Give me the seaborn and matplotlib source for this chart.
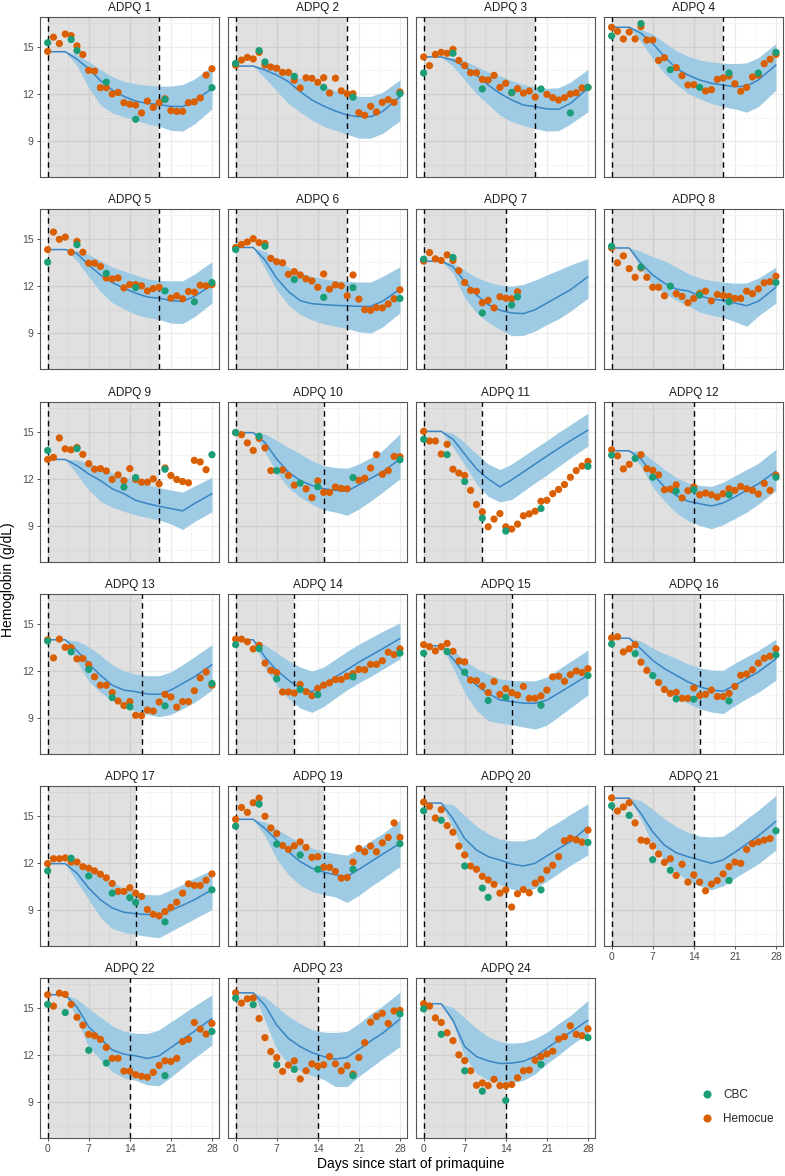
import matplotlib
matplotlib.use("Agg")
import numpy as np
import pandas as pd
import matplotlib.pyplot as plt
import seaborn as sns
from matplotlib.lines import Line2D

# ---------------- data ----------------
PANELS = ["ADPQ 1", "ADPQ 2", "ADPQ 3", "ADPQ 4", "ADPQ 5", "ADPQ 6", "ADPQ 7", "ADPQ 8",
          "ADPQ 9", "ADPQ 10", "ADPQ 11", "ADPQ 12", "ADPQ 13", "ADPQ 14", "ADPQ 15", "ADPQ 16",
          "ADPQ 17", "ADPQ 19", "ADPQ 20", "ADPQ 21", "ADPQ 22", "ADPQ 23", "ADPQ 24"]

END_DAY = [19, 19, 19, 19, 19, 19, 14, 19, 19, 15, 10, 14, 16, 10, 15, 15, 15, 15, 14, 14, 14, 14, 14]

X_TICKS = [0, 7, 14, 21, 28]
Y_TICKS = [9, 12, 15]

N = None
# Hemocue daily values, day 0..28
HEMOCUE = {
    "ADPQ 1": [14.7, 15.6, 15.2, 15.8, 15.7, 15.05, 14.5, 13.5, 13.45, 12.4, 12.4, 12.0, 12.1, 11.45, 11.35, 11.3, 10.8, 11.55, 11.15, 11.45, 11.7, 10.95, 10.9, 10.9, 11.45, 11.5, 11.75, 13.2, 13.6],
    "ADPQ 2": [13.82, 14.15, 14.32, 14.22, 14.64, 13.84, 13.71, 13.63, 13.37, 13.37, 12.87, 12.38, 13.03, 12.99, 12.74, 13.03, 12.06, 13.0, 12.2, 12.02, 12.02, 10.82, 10.65, 11.22, 10.86, 11.47, 11.64, 11.47, 12.13],
    "ADPQ 3": [14.35, 13.8, 14.51, 14.64, 14.58, 14.83, 14.13, 13.8, 13.35, 13.35, 12.93, 12.89, 13.18, 12.42, 12.68, 12.08, 12.34, 12.06, 12.19, 11.81, N, 11.98, 11.77, 11.62, 11.77, 12.0, 12.08, 12.38, 12.42],
    "ADPQ 4": [16.23, 15.97, 15.49, 15.93, 15.49, 16.27, 15.42, 15.42, 14.13, 14.3, N, 13.67, 13.16, 12.57, 12.59, N, 12.19, 12.27, 12.93, 13.01, 13.14, 12.65, 12.17, 12.42, 13.08, 13.2, 13.92, 14.2, 14.51],
    "ADPQ 5": [14.31, 15.42, 14.96, 15.1, 14.14, 14.83, 14.14, 13.45, 13.45, 13.24, 12.51, 12.45, 12.51, 11.88, 12.09, 12.09, 12.01, 11.69, 11.84, 11.92, N, 11.23, 11.38, 11.19, 11.65, 11.61, 12.05, 12.01, 12.09],
    "ADPQ 6": [14.44, 14.64, 14.79, 15.0, 14.75, 14.69, 13.75, 13.54, 13.47, 12.74, 12.91, 12.7, 12.45, 12.32, 11.92, 12.76, 11.8, 12.07, 12.01, 11.38, 12.7, 11.17, 10.5, 10.46, 10.63, 10.61, 10.86, 11.19, 11.76],
    "ADPQ 7": [13.58, 14.12, 13.72, 13.62, 13.97, 13.62, 12.97, 12.22, 11.72, 11.67, 10.94, 11.09, 10.61, 11.32, 11.23, 11.19, 11.63, N, N, N, N, N, N, N, N, N, N, N, N],
    "ADPQ 8": [14.41, 13.47, 13.91, 13.1, 12.55, 13.14, 12.55, 11.92, 11.92, 11.38, N, 11.51, 11.34, 10.94, 11.21, 11.53, 11.67, 11.06, 11.46, 11.4, 11.34, 11.21, 11.21, 11.67, 11.51, 11.82, 12.2, 12.28, 12.62],
    "ADPQ 9": [13.24, 13.37, 14.6, 13.91, 13.85, 14.0, 13.56, 12.97, 12.62, 12.66, 12.51, 11.97, 12.26, 11.9, 12.66, 11.97, 11.8, 11.8, 12.01, 11.69, 12.7, 12.22, 11.97, 11.84, 11.76, 13.18, 13.08, 12.59, N],
    "ADPQ 10": [14.94, 14.81, 14.29, 13.81, 14.58, 13.97, 12.53, N, 12.57, 12.22, 11.61, N, 11.38, 10.82, 11.88, 11.15, 11.15, 11.49, 11.4, 11.38, N, 11.92, 12.05, 12.7, 13.54, 12.3, 12.53, 13.43, 13.41],
    "ADPQ 11": [15.02, 14.41, 14.41, 13.58, 14.2, 12.62, 12.38, 12.22, 11.28, 10.38, 9.92, 8.97, 9.46, 9.81, 8.97, 8.83, 9.14, 9.67, 9.79, 9.96, 10.59, 10.65, 11.07, 11.34, 11.65, 12.11, 12.53, 12.82, 13.12],
    "ADPQ 12": [13.85, 13.47, 12.64, 12.93, N, 13.54, 12.66, 12.55, 12.26, 11.32, 11.36, 11.63, 10.8, 11.26, 11.49, 11.0, 11.11, 11.0, 10.86, 11.07, 11.38, 11.28, 11.53, 11.38, 11.28, 11.05, 11.72, 11.28, 12.24],
    "ADPQ 13": [13.98, 12.83, 14.02, 13.5, 13.48, 12.77, 12.79, 12.4, 11.63, 11.1, 11.1, 10.63, 10.1, 9.81, 10.06, 9.19, 9.17, 9.52, 9.46, 10.04, 10.52, 10.35, 9.71, 10.06, 10.06, 10.75, 11.56, 11.94, 11.1],
    "ADPQ 14": [14.02, 14.02, 13.85, 13.4, 13.63, 12.5, 12.04, 11.9, 10.67, 10.67, 10.6, 11.15, 10.69, 10.44, 10.9, 11.1, 11.25, 11.46, 11.46, 11.67, 11.83, 12.1, 12.08, 12.42, 12.42, 12.65, 13.19, 13.04, 13.4],
    "ADPQ 15": [13.67, 13.54, 13.27, 13.54, 13.75, 13.25, 12.63, 12.58, 11.42, 11.38, 11.04, 10.63, 11.33, 10.52, 10.88, 10.63, 10.48, 11.02, 10.27, 10.27, 10.42, 10.79, 11.63, 11.67, 11.35, 11.77, 12.0, 11.9, 12.15],
    "ADPQ 16": [14.1, 14.17, 13.21, 13.4, 13.67, 12.56, 12.04, N, 11.27, 10.83, 10.58, 10.65, 10.27, 10.27, 10.92, 10.44, 10.52, 10.79, 10.38, 10.38, 10.58, 11.02, 11.73, 11.81, 12.08, 12.5, 12.81, 12.94, 13.4],
    "ADPQ 17": [11.96, 12.27, 12.27, 12.32, 12.06, 12.06, 11.77, 11.67, 11.5, 11.29, 11.06, 10.7, 10.2, 10.2, 10.43, 10.09, 9.88, 9.05, 8.75, 8.65, 8.92, 9.19, 9.51, 10.09, 10.68, 10.58, 10.58, 10.91, 11.31],
    "ADPQ 19": [14.77, 15.52, 15.21, 15.82, 16.11, 14.96, 14.22, 13.87, 13.11, 12.86, 13.09, 13.34, 12.99, 12.36, 12.4, 11.73, 11.73, 11.46, 11.04, 11.08, 12.06, 12.92, 12.71, 13.07, 12.71, 13.28, 13.62, 14.54, 13.62],
    "ADPQ 20": [15.86, 15.59, 14.85, 15.38, 14.37, 13.95, 13.07, 12.51, 11.81, 11.6, 11.16, 10.93, 10.65, 10.09, 10.3, 9.21, 10.05, 10.32, 10.11, 10.72, 10.97, 11.54, 11.86, 12.4, 13.41, 13.57, 13.47, 13.32, 14.08],
    "ADPQ 21": [16.13, 15.29, 15.55, 15.82, 14.54, 13.45, 13.39, 13.07, 12.57, 12.04, 12.27, 11.21, 11.92, 10.79, 11.25, 10.79, 10.24, 10.66, 10.89, 11.31, 11.77, 12.06, 11.98, 12.86, 13.22, 13.34, 13.45, 13.55, N],
    "ADPQ 22": [15.82, 15.1, 15.92, 15.84, 15.21, 14.39, 13.89, 13.31, 13.22, 12.99, 12.48, 11.79, 11.79, 10.98, 10.98, 10.75, 10.65, 10.59, 10.9, 11.34, 11.63, 11.59, 11.79, 12.85, 12.99, 14.06, 13.64, 13.33, 14.0],
    "ADPQ 23": [15.94, 15.29, 15.56, 15.61, 14.31, 13.1, 12.22, 11.84, 10.96, 11.36, 11.63, 10.48, 11.0, 11.44, 11.3, 11.38, 11.9, 11.44, 11.0, 11.32, 10.79, 11.84, 12.78, 14.08, 14.44, 14.64, 14.0, 14.79, 14.83],
    "ADPQ 24": [15.25, 15.1, 14.35, 14.06, 13.41, 12.91, 12.01, 11.65, 11.0, 10.08, 10.23, 10.06, 10.46, 10.06, 10.06, 10.13, 10.56, 11.0, 11.05, 11.67, 11.9, 12.07, 12.24, 13.01, 13.16, 13.85, 13.31, 13.22, 13.66],
}

CBC_DAYS = {
    "ADPQ 1": [0, 4, 5, 10, 15, 20, 28], "ADPQ 2": [0, 4, 5, 10, 15, 20, 28],
    "ADPQ 3": [0, 5, 10, 15, 20, 25, 28], "ADPQ 4": [0, 5, 10, 15, 20, 25, 28],
    "ADPQ 5": [0, 5, 10, 15, 20, 25, 28], "ADPQ 6": [0, 5, 10, 15, 20, 28],
    "ADPQ 7": [0, 5, 10, 15, 16], "ADPQ 8": [0, 5, 10, 15, 20, 28],
    "ADPQ 9": [0, 5, 13, 15, 20, 28], "ADPQ 10": [0, 4, 7, 11, 14, 20, 28],
    "ADPQ 11": [0, 4, 7, 10, 14, 20, 28], "ADPQ 12": [0, 4, 7, 11, 14, 20, 28],
    "ADPQ 13": [0, 4, 7, 11, 14, 20, 28], "ADPQ 14": [0, 4, 7, 11, 14, 20, 28],
    "ADPQ 15": [0, 4, 7, 11, 14, 20, 28], "ADPQ 16": [0, 4, 7, 11, 14, 20, 28],
    "ADPQ 17": [0, 4, 7, 11, 14, 15, 20, 28], "ADPQ 19": [0, 4, 7, 11, 14, 20, 28],
    "ADPQ 20": [0, 3, 7, 10, 11, 20, 28], "ADPQ 21": [0, 3, 7, 10, 20, 28],
    "ADPQ 22": [0, 3, 7, 10, 20, 28], "ADPQ 23": [0, 3, 7, 10, 20, 28],
    "ADPQ 24": [0, 3, 7, 10, 14, 20, 28],
}
CBC_VALUES = {
    "ADPQ 1": [15.25, 15.45, 14.75, 12.75, 10.4, 11.65, 12.4],
    "ADPQ 2": [13.94, 14.75, 14.03, 13.12, 12.42, 11.8, 12.02],
    "ADPQ 3": [13.33, 14.58, 12.32, 12.1, 12.32, 10.8, 12.42],
    "ADPQ 4": [15.68, 16.46, 13.54, 12.42, 13.33, 13.33, 14.64],
    "ADPQ 5": [13.51, 14.62, 12.8, 11.9, 11.69, 11.0, 12.22],
    "ADPQ 6": [14.31, 14.52, 12.41, 11.28, 11.9, 11.21],
    "ADPQ 7": [13.7, 13.81, 10.29, 10.79, 11.32],
    "ADPQ 8": [14.52, 13.2, 11.99, 11.42, 11.0, 12.22],
    "ADPQ 9": [13.81, 13.93, 11.49, 12.09, 12.62, 13.54],
    "ADPQ 10": [14.94, 14.71, 12.53, 11.74, 11.51, 12.09, 13.22],
    "ADPQ 11": [14.52, 13.54, 11.84, 9.52, 8.7, 10.13, 12.8],
    "ADPQ 12": [13.51, 13.3, 12.11, 11.23, 11.32, 11.0, 12.11],
    "ADPQ 13": [13.9, 13.21, 12.1, 10.31, 9.73, 9.79, 11.21],
    "ADPQ 14": [13.67, 13.42, 11.5, 10.83, 10.5, 11.63, 13.13],
    "ADPQ 15": [13.13, 13.23, 11.92, 10.13, 10.33, 9.83, 11.71],
    "ADPQ 16": [13.71, 13.1, 11.71, 10.23, 10.21, 10.1, 13.02],
    "ADPQ 17": [11.5, 12.3, 11.18, 10.09, 9.8, 9.51, 8.27, 10.3],
    "ADPQ 19": [14.33, 15.73, 13.2, 12.51, 11.6, 11.6, 13.22],
    "ADPQ 20": [15.31, 14.71, 11.81, 10.41, 9.82, 10.3, 13.3],
    "ADPQ 21": [15.63, 15.02, 12.21, 11.54, 10.89, 14.04],
    "ADPQ 22": [15.21, 14.69, 12.3, 11.49, 10.69, 13.49],
    "ADPQ 23": [15.61, 15.19, 11.38, 11.09, 10.69, 14.6],
    "ADPQ 24": [14.92, 13.31, 11.0, 9.71, 9.12, 11.4, 13.1],
}

MODEL_DAYS = [0, 3, 5, 7, 9, 11, 13, 15, 17, 19, 21, 23, 25, 28]
MODEL_MEDIAN = {
    "ADPQ 1": [14.68, 14.68, 14.2, 13.6, 12.85, 12.25, 11.85, 11.55, 11.4, 11.33, 11.22, 11.2, 11.55, 12.35],
    "ADPQ 2": [13.77, 13.77, 13.52, 13.2, 12.78, 12.15, 11.62, 11.24, 10.92, 10.67, 10.56, 10.56, 10.88, 11.83],
    "ADPQ 3": [14.35, 14.35, 14.15, 13.73, 13.2, 12.57, 12.04, 11.62, 11.3, 11.2, 11.05, 11.03, 11.4, 12.36],
    "ADPQ 4": [16.23, 16.23, 15.85, 15.21, 14.37, 13.63, 13.2, 12.89, 12.68, 12.57, 12.46, 12.5, 12.89, 13.84],
    "ADPQ 5": [14.31, 14.31, 14.06, 13.33, 12.7, 12.22, 11.86, 11.55, 11.3, 11.23, 11.07, 11.03, 11.34, 12.07],
    "ADPQ 6": [14.44, 14.44, 13.64, 12.49, 11.65, 11.07, 10.88, 10.82, 10.77, 10.75, 10.71, 10.71, 11.03, 11.8],
    "ADPQ 7": [13.58, 13.58, 13.22, 12.28, 11.44, 10.82, 10.46, 10.29, 10.25, 10.5, 10.92, 11.34, 11.76, 12.59],
    "ADPQ 8": [14.41, 14.41, 13.43, 12.7, 12.18, 11.8, 11.69, 11.38, 11.17, 11.09, 10.92, 10.75, 11.03, 11.92],
    "ADPQ 9": [13.24, 13.24, 12.85, 12.32, 11.9, 11.38, 11.07, 10.65, 10.44, 10.27, 10.13, 9.98, 10.44, 11.07],
    "ADPQ 10": [14.94, 14.94, 14.31, 13.26, 12.43, 11.9, 11.59, 11.38, 11.28, 11.23, 11.63, 12.03, 12.45, 13.26],
    "ADPQ 11": [15.02, 15.02, 14.52, 13.58, 12.64, 12.01, 11.5, 11.95, 12.45, 12.95, 13.45, 13.94, 14.42, 15.1],
    "ADPQ 12": [13.79, 13.79, 13.26, 12.32, 11.49, 10.96, 10.59, 10.44, 10.29, 10.48, 10.86, 11.28, 11.69, 12.49],
    "ADPQ 13": [13.98, 13.98, 13.29, 12.46, 11.73, 11.1, 10.79, 10.69, 10.54, 10.52, 10.79, 11.21, 11.63, 12.4],
    "ADPQ 14": [13.98, 13.98, 12.88, 12.04, 11.42, 10.9, 10.69, 11.1, 11.63, 12.08, 12.56, 12.98, 13.4, 14.06],
    "ADPQ 15": [13.6, 13.6, 12.77, 11.83, 11.1, 10.58, 10.17, 10.06, 9.96, 9.95, 10.15, 10.6, 11.05, 11.73],
    "ADPQ 16": [14.08, 14.08, 13.4, 12.67, 12.15, 11.73, 11.31, 11.0, 10.79, 10.72, 11.1, 11.52, 11.94, 12.77],
    "ADPQ 17": [11.96, 11.96, 11.35, 10.41, 9.67, 9.15, 8.88, 8.79, 8.73, 8.73, 9.0, 9.32, 9.67, 10.3],
    "ADPQ 19": [14.77, 14.77, 14.18, 13.45, 12.71, 12.09, 11.67, 11.42, 11.25, 11.14, 11.6, 12.07, 12.55, 13.24],
    "ADPQ 20": [15.8, 15.8, 14.81, 13.55, 12.82, 12.4, 12.19, 11.94, 11.81, 11.98, 12.45, 12.91, 13.35, 14.29],
    "ADPQ 21": [16.11, 16.11, 15.13, 13.97, 13.13, 12.65, 12.4, 12.19, 11.98, 12.2, 12.68, 13.2, 13.72, 14.64],
    "ADPQ 22": [15.82, 15.82, 15.04, 13.79, 13.05, 12.32, 12.05, 11.95, 11.78, 11.95, 12.47, 12.99, 13.5, 14.31],
    "ADPQ 23": [15.94, 15.94, 15.15, 13.89, 13.05, 12.53, 12.15, 11.9, 11.74, 11.85, 12.36, 12.89, 13.37, 14.27],
    "ADPQ 24": [15.25, 15.25, 14.2, 12.53, 11.9, 11.63, 11.46, 11.49, 11.6, 11.92, 12.43, 12.94, 13.44, 14.2],
}
MODEL_LOW = {
    "ADPQ 1": [14.68, 14.68, 13.8, 12.4, 11.3, 10.8, 10.55, 10.35, 10.1, 9.95, 9.7, 9.65, 10.1, 11.05],
    "ADPQ 2": [13.77, 13.77, 13.0, 12.2, 11.4, 10.85, 10.35, 9.95, 9.7, 9.45, 9.2, 9.2, 9.5, 10.3],
    "ADPQ 3": [14.35, 14.35, 13.75, 12.9, 12.0, 11.35, 10.65, 10.25, 10.0, 9.8, 9.65, 9.68, 10.1, 10.88],
    "ADPQ 4": [16.23, 16.23, 15.3, 14.25, 13.3, 12.6, 12.05, 11.7, 11.4, 11.2, 11.05, 10.85, 11.2, 12.25],
    "ADPQ 5": [14.31, 14.31, 13.6, 12.6, 11.65, 10.95, 10.55, 10.2, 10.0, 9.88, 9.65, 9.62, 10.05, 10.92],
    "ADPQ 6": [14.44, 14.44, 13.1, 11.75, 10.8, 10.2, 9.85, 9.6, 9.45, 9.3, 9.1, 9.02, 9.4, 10.29],
    "ADPQ 7": [13.58, 13.58, 12.8, 11.25, 10.3, 9.7, 9.25, 8.85, 8.87, 9.15, 9.56, 9.92, 10.4, 11.23],
    "ADPQ 8": [14.41, 14.41, 13.1, 12.05, 11.55, 11.1, 10.75, 10.35, 10.15, 10.0, 9.75, 9.45, 10.1, 10.92],
    "ADPQ 9": [13.24, 13.24, 12.3, 11.3, 10.6, 10.2, 9.95, 9.72, 9.55, 9.4, 9.15, 8.8, 9.3, 9.92],
    "ADPQ 10": [14.94, 14.94, 13.7, 12.4, 11.45, 10.85, 10.4, 10.05, 9.9, 9.7, 10.1, 10.6, 11.15, 12.01],
    "ADPQ 11": [15.02, 15.02, 14.0, 12.9, 11.7, 10.9, 10.55, 10.7, 11.23, 11.76, 12.26, 12.8, 13.33, 14.1],
    "ADPQ 12": [13.79, 13.79, 12.8, 11.5, 10.6, 9.85, 9.35, 9.05, 8.85, 9.1, 9.5, 9.9, 10.4, 11.28],
    "ADPQ 13": [13.98, 13.98, 12.6, 11.35, 10.65, 10.15, 9.75, 9.45, 9.25, 9.1, 9.25, 9.6, 10.0, 10.79],
    "ADPQ 14": [13.98, 13.98, 12.2, 11.1, 10.25, 9.65, 9.38, 9.75, 10.3, 10.8, 11.25, 11.65, 12.1, 12.77],
    "ADPQ 15": [13.6, 13.6, 12.2, 10.6, 9.5, 8.85, 8.7, 8.6, 8.45, 8.32, 8.57, 9.11, 9.66, 10.48],
    "ADPQ 16": [14.08, 14.08, 12.6, 11.5, 10.75, 10.3, 9.95, 9.6, 9.4, 9.3, 9.8, 10.25, 10.65, 11.42],
    "ADPQ 17": [11.96, 11.96, 10.8, 9.67, 8.55, 7.85, 7.6, 7.47, 7.35, 7.27, 7.67, 8.06, 8.46, 9.05],
    "ADPQ 19": [14.77, 14.77, 13.7, 12.25, 11.25, 10.6, 10.2, 10.0, 9.85, 9.5, 9.95, 10.5, 11.0, 11.77],
    "ADPQ 20": [15.8, 15.8, 14.2, 12.6, 11.6, 11.05, 10.65, 10.35, 10.2, 10.4, 10.85, 11.35, 11.85, 12.51],
    "ADPQ 21": [16.11, 16.11, 14.8, 13.15, 12.2, 11.4, 10.9, 10.55, 10.3, 10.55, 11.05, 11.5, 11.95, 12.82],
    "ADPQ 22": [15.82, 15.82, 14.3, 12.5, 11.7, 10.95, 10.55, 10.4, 10.1, 10.05, 10.6, 11.2, 11.8, 12.64],
    "ADPQ 23": [15.94, 15.94, 14.2, 12.35, 11.45, 11.0, 10.7, 10.45, 10.0, 10.0, 10.65, 11.2, 11.75, 12.53],
    "ADPQ 24": [15.25, 15.25, 14.0, 11.9, 10.85, 10.4, 10.3, 10.25, 10.4, 10.8, 11.45, 12.0, 12.6, 13.37],
}
MODEL_HIGH = {
    "ADPQ 1": [14.68, 14.68, 14.5, 14.05, 13.55, 13.1, 12.8, 12.65, 12.55, 12.5, 12.5, 12.6, 12.95, 13.75],
    "ADPQ 2": [13.77, 13.77, 13.72, 13.55, 13.25, 13.0, 12.75, 12.5, 12.2, 12.0, 11.85, 11.85, 12.1, 12.9],
    "ADPQ 3": [14.35, 14.35, 14.3, 14.1, 13.75, 13.4, 13.15, 12.85, 12.6, 12.45, 12.36, 12.4, 12.75, 13.56],
    "ADPQ 4": [16.23, 16.23, 16.1, 15.8, 15.25, 14.75, 14.4, 14.15, 14.03, 13.95, 13.93, 13.97, 14.3, 15.2],
    "ADPQ 5": [14.31, 14.31, 14.25, 14.0, 13.6, 13.2, 12.95, 12.7, 12.45, 12.35, 12.33, 12.33, 12.75, 13.54],
    "ADPQ 6": [14.44, 14.44, 14.2, 13.7, 13.2, 12.85, 12.6, 12.45, 12.35, 12.3, 12.25, 12.25, 12.6, 13.22],
    "ADPQ 7": [13.58, 13.58, 13.45, 13.0, 12.55, 12.25, 12.05, 11.97, 12.11, 12.38, 12.7, 13.01, 13.33, 13.74],
    "ADPQ 8": [14.41, 14.41, 14.2, 13.85, 13.6, 13.2, 12.8, 12.5, 12.35, 12.25, 12.18, 12.2, 12.5, 13.2],
    "ADPQ 9": [13.24, 13.24, 13.22, 13.0, 12.7, 12.4, 12.15, 11.9, 11.65, 11.45, 11.3, 11.17, 11.55, 12.11],
    "ADPQ 10": [14.94, 14.94, 14.85, 14.45, 14.0, 13.6, 13.15, 12.85, 12.72, 12.68, 12.95, 13.35, 13.8, 14.87],
    "ADPQ 11": [15.02, 15.02, 14.9, 14.3, 13.6, 12.95, 12.6, 12.95, 13.45, 13.95, 14.44, 14.96, 15.44, 16.17],
    "ADPQ 12": [13.79, 13.79, 13.75, 13.2, 12.6, 12.1, 11.75, 11.6, 11.53, 11.8, 12.2, 12.6, 13.0, 13.89],
    "ADPQ 13": [13.98, 13.98, 13.9, 13.55, 13.0, 12.4, 12.0, 11.8, 11.7, 11.7, 11.95, 12.4, 12.9, 13.67],
    "ADPQ 14": [13.98, 13.98, 13.65, 13.15, 12.65, 12.25, 12.0, 12.25, 12.75, 13.25, 13.7, 14.1, 14.5, 15.06],
    "ADPQ 15": [13.6, 13.6, 13.35, 12.65, 12.15, 11.8, 11.5, 11.4, 11.38, 11.38, 11.62, 12.11, 12.6, 13.33],
    "ADPQ 16": [14.08, 14.08, 13.9, 13.45, 13.1, 12.8, 12.45, 12.2, 12.06, 12.04, 12.5, 12.9, 13.3, 14.02],
    "ADPQ 17": [11.96, 11.96, 11.9, 11.6, 11.15, 10.75, 10.42, 10.1, 10.0, 9.98, 10.3, 10.65, 11.05, 11.56],
    "ADPQ 19": [14.77, 14.77, 14.6, 14.15, 13.7, 13.3, 12.95, 12.75, 12.6, 12.5, 12.9, 13.4, 13.85, 14.71],
    "ADPQ 20": [15.8, 15.8, 15.7, 15.0, 14.35, 13.85, 13.5, 13.4, 13.4, 13.6, 14.18, 14.6, 15.08, 15.75],
    "ADPQ 21": [16.11, 16.11, 15.95, 15.4, 14.8, 14.3, 13.95, 13.7, 13.65, 13.7, 14.2, 14.8, 15.35, 16.28],
    "ADPQ 22": [15.82, 15.82, 15.55, 14.95, 14.4, 13.85, 13.5, 13.38, 13.36, 13.6, 14.1, 14.6, 15.1, 15.82],
    "ADPQ 23": [15.94, 15.94, 15.7, 15.05, 14.45, 14.0, 13.6, 13.45, 13.43, 13.5, 14.0, 14.6, 15.1, 15.98],
    "ADPQ 24": [15.25, 15.25, 15.0, 14.35, 13.7, 13.15, 12.85, 12.75, 12.8, 13.05, 13.45, 14.0, 14.5, 15.46],
}

# ---------------- long tables ----------------
obs_rows = []
for p in PANELS:
    for d, v in enumerate(HEMOCUE[p]):
        if v is not None:
            obs_rows.append((p, d, v, "Hemocue"))
    for d, v in zip(CBC_DAYS[p], CBC_VALUES[p]):
        obs_rows.append((p, d, v, "CBC"))
obs = pd.DataFrame(obs_rows, columns=["panel", "day", "hb", "method"])

model_rows = []
for p in PANELS:
    for d, m, lo, hi in zip(MODEL_DAYS, MODEL_MEDIAN[p], MODEL_LOW[p], MODEL_HIGH[p]):
        model_rows.append((p, d, m, lo, hi))
model = pd.DataFrame(model_rows, columns=["panel", "day", "med", "lo", "hi"])

# ---------------- style ----------------
sns.set_theme(style="white")
plt.rcParams["font.family"] = ["Liberation Sans", "DejaVu Sans"]

COLORS = {"CBC": "#1b9e77", "Hemocue": "#d95f02"}
RIBBON = "#9ecbe3"
LINE = "#3a84c4"

W, H = 785, 1176
fig = plt.figure(figsize=(W / 100, H / 100), dpi=100)

COL_X = [40, 228, 416, 604]
ROW_Y = [17, 209, 402, 594, 786, 978]
PW, PH = 179, 160
NCOL = 4

for i, p in enumerate(PANELS):
    r, c = divmod(i, NCOL)
    ax = fig.add_axes([COL_X[c] / W, 1 - (ROW_Y[r] + PH) / H, PW / W, PH / H])
    ax.set_xlim(-1.3, 29.2)
    ax.set_ylim(6.74, 16.88)
    ax.set_axisbelow(True)
    ax.set_xticks(X_TICKS)
    ax.set_yticks(Y_TICKS)
    ax.set_xticks([3.5, 10.5, 17.5, 24.5], minor=True)
    ax.set_yticks([7.5, 10.5, 13.5, 16.5], minor=True)
    ax.grid(which="major", color="#ebebeb", lw=0.9)
    ax.grid(which="minor", color="#f2f2f2", lw=0.5)

    end = END_DAY[i]
    ax.axvspan(0, end, color="black", alpha=0.12, lw=0, zorder=1)

    mp = model[model.panel == p]
    ax.fill_between(mp.day, mp.lo, mp.hi, color=RIBBON, lw=0, zorder=2)
    sns.lineplot(data=mp, x="day", y="med", ax=ax, color=LINE, lw=1.1,
                 estimator=None, sort=True, zorder=3)

    for xv in (0, end):
        ax.axvline(xv, color="black", lw=1.0, ls=(0, (4, 3)), zorder=4)

    op = obs[obs.panel == p]
    sns.scatterplot(data=op[op.method == "Hemocue"], x="day", y="hb", ax=ax,
                    color=COLORS["Hemocue"], s=27, edgecolor="none", zorder=5, legend=False)
    sns.scatterplot(data=op[op.method == "CBC"], x="day", y="hb", ax=ax,
                    color=COLORS["CBC"], s=27, edgecolor="none", zorder=6, legend=False)

    ax.set_xlabel("")
    ax.set_ylabel("")
    ax.set_title(p, fontsize=8.5, pad=4, color="#1a1a1a")
    for s in ax.spines.values():
        s.set_edgecolor("#555555")
        s.set_linewidth(0.8)

    show_y = (c == 0)
    show_x = (i + NCOL >= len(PANELS))
    ax.tick_params(axis="y", which="major", left=show_y, labelleft=show_y,
                   length=2.5, width=0.6, color="#333333", labelsize=7.5,
                   labelcolor="#4d4d4d", pad=2)
    ax.tick_params(axis="x", which="major", bottom=show_x, labelbottom=show_x,
                   length=2.5, width=0.6, color="#333333", labelsize=7.5,
                   labelcolor="#4d4d4d", pad=2)
    ax.tick_params(which="minor", length=0)

fig.text(8 / W, 1 - 580 / H, "Hemoglobin (g/dL)", rotation=90, ha="center", va="center",
         fontsize=10, color="black")
fig.text(411 / W, 1 - 1164 / H, "Days since start of primaquine", ha="center", va="center",
         fontsize=10, color="black")

handles = [Line2D([], [], marker="o", ls="", color=COLORS[k], markersize=5.8, markeredgewidth=0)
           for k in ("CBC", "Hemocue")]
fig.legend(handles, ["CBC", "Hemocue"], loc="center left",
           bbox_to_anchor=(696 / W, 1 - 1107 / H), frameon=False, fontsize=8.5,
           handletextpad=0.9, labelspacing=1.05, handlelength=1.0, borderaxespad=0)

fig.savefig("out.png", dpi=100)
